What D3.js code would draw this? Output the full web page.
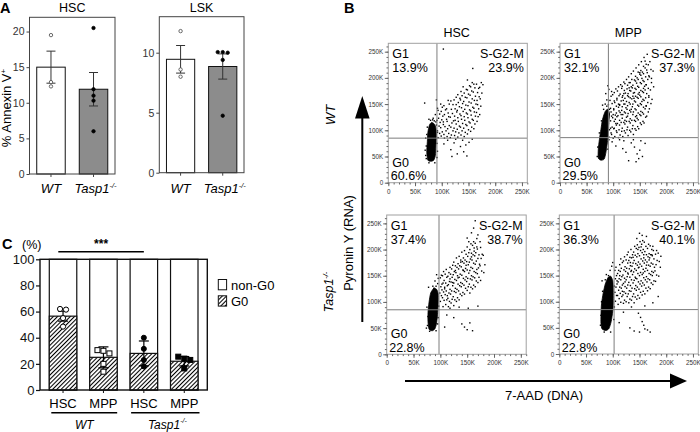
<!DOCTYPE html>
<html><head><meta charset="utf-8">
<script src="https://cdn.jsdelivr.net/npm/d3@7/dist/d3.min.js"></script>
<style>html,body{margin:0;padding:0;background:#fff;}svg{display:block;}</style>
</head><body>
<svg id="chart" width="700" height="432"></svg>
<script>
// ================= DATA =================
// Panel A – % Annexin V+
const aGroups = ["WT", "Tasp1"];
const aTicksHSC = [0, 5, 10, 15, 20];
const aTicksLSK = [0, 5, 10];
const hscAnnexinMean = [15.0, 11.9];
const hscAnnexinSEM = [2.25, 2.35];
const hscAnnexinWT = [19.5, 12.9, 12.3];
const hscAnnexinKO = [20.5, 11.9, 11.0, 10.3, 6.0];
const lskAnnexinMean = [9.45, 8.85];
const lskAnnexinSEM = [1.15, 1.05];
const lskAnnexinWT = [11.8, 8.6, 8.0];
const lskAnnexinKO = [10.05, 10.0, 10.05, 9.4, 4.75];

// Panel C – % G0 / non-G0
const cBars = ["WT-HSC", "WT-MPP", "KO-HSC", "KO-MPP"];
const cBarLabels = ["HSC", "MPP", "HSC", "MPP"];
const cTicks = [0, 20, 40, 60, 80, 100];
const g0Mean = [56.5, 25.0, 28.0, 22.0];
const g0SD = [3.8, 8.0, 9.5, 3.6];
const g0WTHSC = [62, 61.5, 55, 48.5];
const g0WTMPP = [30, 28, 30.5, 20, 14];
const g0KOHSC = [40, 31.5, 23, 18];
const g0KOMPP = [23, 24, 25.5, 16.5];

// Panel B – flow plots (values in thousands)
const flowTicks = [0, 50, 100, 150, 200, 250];
const flowTickLabels = ["0", "50K", "100K", "150K", "200K", "250K"];
const g1Pct = ["13.9%", "32.1%", "37.4%", "36.3%"];
const sg2mPct = ["23.9%", "37.3%", "38.7%", "40.1%"];
const g0Pct = ["60.6%", "29.5%", "22.8%", "22.8%"];
const gateX = [91, 91, 97.5, 102.5];
const gateY = [85, 86, 85, 85];

const blobHSCWT = [[74,43],[80,41],[85,43],[88,52],[89,70],[90,90],[89,104],[86,112],[81,115],[77,110],[74,96],[73,78],[72,58]];
const blobMPPWT = [[72,47],[77,43],[83,45],[86,56],[89,76],[91,98],[92,118],[93,132],[90,140],[85,136],[80,121],[77,102],[74,82],[72,64]];
const blobHSCKO = [[79,48],[85,45],[90,49],[93,60],[95,80],[96,100],[96,115],[93,124],[88,126],[82,117],[79,100],[77,80],[77,62]];
const blobMPPKO = [[80,48],[87,45],[93,49],[97,62],[100,82],[101,102],[101,122],[100,140],[96,149],[91,146],[86,134],[82,116],[79,96],[78,76],[78,58]];

const dotsHSCWT = [
[93,86],[96,94],[92,99],[95,108],[97,115],[94,123],[96,131],[93,138],
[99,89],[101,97],[98,105],[103,111],[100,120],[102,127],[99,136],[101,144],
[105,85],[104,92],[108,99],[106,107],[103,116],[109,121],[105,130],[107,139],[104,147],
[110,88],[113,94],[111,103],[114,109],[110,117],[113,126],[112,133],[109,141],[114,150],
[116,86],[118,91],[121,99],[117,106],[119,114],[122,118],[116,125],[120,132],[118,140],[121,149],[117,156],
[124,90],[126,97],[123,104],[127,112],[125,119],[124,127],[128,135],[125,141],[127,149],[123,158],
[130,87],[132,95],[129,102],[133,108],[131,117],[130,124],[134,131],[129,138],[133,145],[131,153],[134,161],[130,168],
[136,91],[138,99],[135,106],[139,113],[137,121],[136,128],[140,136],[137,143],[139,151],[135,158],[138,166],[136,174],
[142,88],[144,96],[141,104],[145,111],[143,119],[142,126],[146,133],[143,140],[145,148],[141,155],[144,163],[142,171],[146,178],
[148,93],[150,101],[147,109],[151,116],[149,124],[148,131],[152,139],[149,147],[151,154],[147,162],[150,169],[148,177],[152,185],
[154,98],[156,106],[153,114],[157,121],[155,129],[154,137],[158,144],[155,152],[157,160],[153,167],[156,175],[154,183],[157,191],
[160,103],[162,112],[159,119],[163,127],[161,135],[160,142],[164,150],[161,157],[163,165],[159,173],[162,181],[160,188],
[166,117],[168,126],[165,134],[169,141],[167,149],[166,157],[170,164],[167,172],[169,180],[165,188],
[171,130],[173,146],[172,160],[175,171],[171,182],[174,191],[177,187],
[158,218],[103,255],[148,196],[140,183],[127,163],[112,157],[98,150],
[104,74],[111,81],[117,63],[123,76],[129,55],[135,69],[141,59],[147,51],[151,77],[157,83],[126,83],[139,81],[145,72],[119,50],
[68,152],[84,123],[88,130],[91,119],[76,121],[92,142],[90,158],[86,118],[79,119],[72,92],[69,62],[91,48],[71,46],
[70,52],[71,70],[91,75],[92,96],[90,110],[73,106],[70,85],[92,60],[87,38],[76,38],[83,120],[89,116]
];

const dotsMPPWT = [
[92,87],[96,95],[93,101],[91,113],[95,118],[97,127],[92,131],[95,142],[91,149],[94,157],[96,165],
[100,85],[97,92],[101,103],[98,106],[102,117],[99,124],[96,135],[101,139],[98,151],[102,156],[99,168],[97,174],
[103,88],[106,99],[102,104],[105,113],[107,126],[104,129],[101,141],[106,146],[103,153],[107,161],[102,172],[105,179],
[110,86],[107,96],[111,101],[108,113],[112,119],[109,128],[106,133],[110,144],[112,149],[107,158],[111,166],[108,175],[110,183],
[113,91],[116,98],[112,110],[115,115],[117,123],[113,134],[116,138],[112,148],[115,156],[117,163],[113,169],[116,180],[114,187],
[118,88],[121,99],[117,104],[120,115],[122,119],[118,130],[121,135],[117,145],[120,150],[122,161],[118,166],[121,176],[117,184],[120,192],
[123,95],[126,101],[122,112],[125,117],[127,127],[123,133],[126,140],[122,150],[125,155],[127,166],[123,171],[126,179],[122,189],[125,197],
[128,90],[131,100],[127,106],[130,117],[132,122],[128,132],[131,138],[127,147],[130,153],[132,162],[128,170],[131,176],[127,186],[130,191],[129,202],
[133,97],[136,103],[132,114],[135,119],[137,130],[133,135],[136,145],[132,150],[135,160],[137,165],[133,175],[136,181],[132,191],[135,197],[134,208],
[138,92],[141,103],[137,109],[140,119],[142,126],[138,135],[141,141],[137,150],[140,156],[142,165],[138,171],[141,180],[137,186],[140,196],[142,203],[138,213],
[143,100],[146,107],[142,117],[145,123],[147,133],[143,139],[146,148],[142,154],[145,163],[147,169],[143,178],[146,184],[142,194],[145,200],[147,211],[143,219],
[148,103],[151,114],[147,120],[150,130],[152,136],[148,146],[151,151],[147,161],[150,167],[152,176],[148,182],[151,191],[147,197],[150,207],[152,214],[148,225],
[153,111],[156,117],[152,128],[155,134],[157,144],[153,149],[156,159],[152,164],[155,174],[157,180],[153,189],[156,195],[152,205],[155,211],[157,222],[153,231],
[158,114],[161,125],[157,131],[160,141],[162,147],[158,157],[161,162],[157,172],[160,177],[162,187],[158,193],[161,202],[157,208],[160,219],[162,226],[158,239],
[163,127],[166,135],[162,146],[165,153],[167,163],[163,170],[166,180],[162,187],[165,197],[167,204],[163,215],[166,225],[164,245],
[168,141],[171,151],[167,166],[170,177],[172,191],[168,202],[171,216],[169,231],
[173,159],[176,183],[172,199],[175,213],
[95,104],[104,121],[111,137],[119,157],[124,143],[129,164],[134,183],[139,161],[144,190],[149,172],[154,199],[159,184],[164,210],[134,140],[144,128],[154,155],[125,125],[115,130],[106,110],[150,210],[160,232],[140,172],[130,181],[120,170],[110,150],[100,130],
[98,78],[105,70],[112,82],[118,65],[124,58],[129,42],[134,76],[140,68],[145,55],[148,46],[150,62],[152,80],[155,50],[138,82],[160,75],[120,80],[143,40],
[85,150],[88,158],[80,148],[92,178],[86,170],[90,185],[82,140],[88,146],[93,140],[70,50],[71,68],[90,64],[92,82],[74,95],[78,118]
];

const dotsHSCKO = [
[100,101],[102,112],[99,117],[101,129],[103,134],[100,146],[102,151],
[105,91],[107,103],[104,108],[106,119],[108,125],[105,136],[107,141],[104,150],[106,158],
[110,95],[112,104],[109,114],[111,121],[113,131],[110,136],[112,147],[109,153],[111,162],
[115,91],[117,101],[114,107],[116,117],[118,124],[115,133],[117,139],[114,149],[116,156],[118,166],
[120,98],[122,105],[119,115],[121,121],[123,131],[120,138],[122,147],[119,153],[121,163],[123,170],
[125,93],[127,104],[124,110],[126,120],[128,126],[125,136],[127,143],[124,152],[126,158],[128,169],[125,176],
[130,101],[132,108],[129,118],[131,124],[133,134],[130,141],[132,150],[129,156],[131,166],[133,173],[130,184],
[135,104],[137,115],[134,121],[136,131],[138,137],[135,147],[137,153],[134,163],[136,169],[138,180],[135,187],
[140,112],[142,118],[139,129],[141,135],[143,145],[140,151],[142,161],[139,167],[141,177],[143,184],[140,195],
[145,115],[147,126],[144,132],[146,142],[148,148],[145,158],[147,164],[144,174],[146,180],[148,191],[145,198],
[150,122],[152,129],[149,139],[151,145],[153,155],[150,161],[152,171],[149,177],[151,187],[153,194],[150,205],
[155,117],[157,128],[154,134],[156,144],[158,150],[155,160],[157,166],[154,176],[156,182],[158,193],[155,200],[157,211],
[160,125],[162,132],[159,142],[161,148],[163,158],[160,164],[162,174],[159,180],[161,190],[163,197],[160,208],[162,215],
[165,129],[167,140],[164,146],[166,156],[168,162],[165,172],[167,178],[164,188],[166,194],[168,205],[165,212],
[170,137],[172,147],[169,154],[171,165],[173,172],[170,183],[172,190],[169,201],
[175,141],[177,159],[174,169],[176,183],[178,191],[175,204],
[181,156],[183,171],[180,189],
[108,128],[118,144],[128,160],[138,176],[148,170],[158,186],[163,203],[153,215],[143,160],[133,146],[123,137],[113,112],[103,123],
[165,255],[162,241],[158,232],[170,228],[150,222],[168,221],[174,215],
[108,52],[125,70],[140,58],[145,52],[150,47],[155,60],[160,45],[152,88],[135,90],[118,88],[170,92],[112,75],
[92,130],[90,140],[95,135],[96,145],[93,152],[88,126],[78,128],[74,50],[95,58],
[76,55],[77,72],[96,70],[97,92],[75,90],[80,44],[92,45],[86,130]
];

const dotsMPPKO = [
[105,101],[107,112],[104,118],[106,128],[108,134],[105,144],[107,150],[104,160],[106,166],
[110,95],[112,106],[109,112],[111,122],[113,128],[110,138],[112,144],[109,154],[111,160],[113,171],
[115,99],[117,110],[114,116],[116,126],[118,132],[115,142],[117,148],[114,158],[116,164],[118,175],[115,182],
[120,97],[122,103],[119,113],[121,119],[123,129],[120,135],[122,145],[119,151],[121,161],[123,167],[120,178],[122,186],
[125,100],[127,110],[124,116],[126,126],[128,132],[125,142],[127,148],[124,158],[126,164],[128,174],[125,180],[127,190],
[130,98],[132,105],[129,115],[131,121],[133,131],[130,137],[132,147],[129,153],[131,163],[133,169],[130,179],[132,185],[129,195],
[135,103],[137,110],[134,120],[136,126],[138,136],[135,142],[137,152],[134,158],[136,168],[138,174],[135,184],[137,190],[134,200],
[140,98],[142,109],[139,115],[141,125],[143,131],[140,141],[142,147],[139,157],[141,163],[143,173],[140,179],[142,189],[139,195],[141,206],
[145,105],[147,112],[144,122],[146,128],[148,138],[145,144],[147,154],[144,160],[146,170],[148,176],[145,186],[147,192],[144,202],[146,209],[145,221],
[150,107],[152,118],[149,124],[151,134],[153,140],[150,150],[152,156],[149,166],[151,172],[153,182],[150,188],[152,198],[149,204],[151,215],[150,231],
[155,113],[157,120],[154,130],[156,136],[158,146],[155,152],[157,162],[154,168],[156,178],[158,184],[155,194],[157,200],[154,210],[156,217],[155,227],
[160,115],[162,126],[159,132],[161,142],[163,148],[160,158],[162,164],[159,174],[161,180],[163,190],[160,196],[162,206],[159,214],
[165,121],[167,128],[164,138],[166,144],[168,154],[165,160],[167,170],[164,176],[166,186],[168,192],[165,202],[167,210],
[170,125],[172,136],[169,142],[171,152],[173,158],[170,168],[172,174],[169,184],[171,190],[173,200],[170,207],
[175,133],[177,140],[174,150],[176,156],[178,166],[175,172],[177,182],[174,188],[176,198],[175,206],
[180,139],[182,151],[179,159],[181,171],[183,179],[180,191],[182,198],
[186,149],[189,166],[187,177],[190,187],[185,193],
[108,140],[118,120],[128,155],[138,185],[148,165],[158,190],[168,180],[143,145],[133,175],[123,138],[113,150],[153,205],[163,170],[173,190],[163,225],[147,200],[135,160],[157,155],
[132,50],[140,44],[150,42],[158,55],[160,48],[165,46],[170,42],[152,70],[148,78],[155,62],[120,80],[112,60],[135,90],[160,92],[175,98],[185,110],
[95,160],[98,168],[92,150],[100,175],[88,152],[80,140],[86,142],
[77,55],[78,74],[102,66],[103,90],[79,100],[81,120],[103,130],[96,42],[84,42]
];

// ================= DRAWING =================
const FONT = '"Liberation Sans", Arial, Helvetica, sans-serif';
const svg = d3.select("#chart").attr("font-family", FONT);
const defs = svg.append("defs");

const pat = defs.append("pattern").attr("id", "hatch").attr("patternUnits", "userSpaceOnUse")
  .attr("width", 3).attr("height", 3).attr("patternTransform", "rotate(45)");
pat.append("rect").attr("width", 3).attr("height", 3).attr("fill", "#fff");
pat.append("line").attr("x1", 0.5).attr("y1", 0).attr("x2", 0.5).attr("y2", 3).attr("stroke", "#000").attr("stroke-width", 1.1);

function tasp(sel, size) {
  sel.append("tspan").text("Tasp1");
  sel.append("tspan").attr("font-size", size * 0.58).attr("dy", -size * 0.42).text("-/-");
}

function dodge(vals, yScale, minGap, step) {
  const idx = vals.map((v, i) => i).sort((a, b) => vals[b] - vals[a]);
  const off = new Array(vals.length).fill(0);
  let cluster = [idx[0]];
  const flush = () => { const n = cluster.length; cluster.forEach((k, j) => off[k] = (j - (n - 1) / 2) * step); };
  for (let i = 1; i < idx.length; i++) {
    if (Math.abs(yScale(vals[idx[i]]) - yScale(vals[cluster[cluster.length - 1]])) < minGap) cluster.push(idx[i]);
    else { flush(); cluster = [idx[i]]; }
  }
  flush();
  return off;
}

function label(x, y, text, size, opts = {}) {
  const t = svg.append("text").attr("x", x).attr("y", y).attr("font-size", size)
    .attr("text-anchor", opts.anchor || "start").attr("fill", opts.fill || "#000");
  if (opts.bold) t.attr("font-weight", "bold");
  if (opts.italic) t.attr("font-style", "italic");
  if (opts.rotate) t.attr("transform", `rotate(${opts.rotate},${x},${y})`);
  if (text !== null) t.text(text);
  return t;
}

// ---------- Panel A ----------
function annexinPanel(o) {
  const x = d3.scaleBand().domain(aGroups).range([o.x0, o.x1]).paddingInner(0.33).paddingOuter(0.17);
  const y = d3.scaleLinear().domain([0, o.ymax]).range([o.y1, o.y0]);
  const g = svg.append("g");
  g.selectAll("rect.bar").data(o.means).join("rect").attr("class", "bar")
    .attr("x", (d, i) => x(aGroups[i])).attr("width", x.bandwidth())
    .attr("y", d => y(d)).attr("height", d => y(0) - y(d))
    .attr("fill", (d, i) => i === 0 ? "#fff" : "#8c8c8c").attr("stroke", "#111").attr("stroke-width", 1);
  o.means.forEach((m, i) => {
    const cx = x(aGroups[i]) + x.bandwidth() / 2;
    const lo = y(m - o.sem[i]), hi = y(m + o.sem[i]);
    g.append("line").attr("x1", cx).attr("x2", cx).attr("y1", lo).attr("y2", hi).attr("stroke", "#333");
    [lo, hi].forEach(yy => g.append("line").attr("x1", cx - 4.5).attr("x2", cx + 4.5).attr("y1", yy).attr("y2", yy).attr("stroke", "#333"));
  });
  [o.wt, o.ko].forEach((vals, i) => {
    const cx = x(aGroups[i]) + x.bandwidth() / 2;
    const off = dodge(vals, y, 3.5, 5);
    g.selectAll(null).data(vals).join("circle")
      .attr("cx", (d, j) => cx + off[j]).attr("cy", d => y(d)).attr("r", 1.7)
      .attr("fill", i === 0 ? "#fff" : "#000").attr("stroke", i === 0 ? "#444" : "#000").attr("stroke-width", 0.8);
  });
  g.append("rect").attr("x", o.x0).attr("y", o.y0).attr("width", o.x1 - o.x0).attr("height", o.y1 - o.y0)
    .attr("fill", "none").attr("stroke", "#444").attr("stroke-width", 1);
  const ya = g.append("g").attr("transform", `translate(${o.x0},0)`)
    .call(d3.axisLeft(y).tickValues(o.ticks).tickSize(3).tickPadding(2));
  ya.select(".domain").remove();
  ya.selectAll("line").attr("stroke", "#444");
  ya.selectAll("text").attr("font-size", 10.5).attr("font-family", FONT).attr("fill", "#333");
  const xa = g.append("g").attr("transform", `translate(0,${o.y1})`)
    .call(d3.axisBottom(x).tickSize(3).tickFormat(""));
  xa.select(".domain").remove();
  xa.selectAll("line").attr("stroke", "#444");
  label((o.x0 + o.x1) / 2, 12, o.title, 12.5, { anchor: "middle" });
  label(x("WT") + x.bandwidth() / 2, 193, "WT", 13, { anchor: "middle", italic: true });
  tasp(label(x("Tasp1") + x.bandwidth() / 2 + 2, 193, null, 13, { anchor: "middle", italic: true }), 13);
}

annexinPanel({ x0: 29.5, x1: 115, y0: 17.3, y1: 174, ymax: 22, ticks: aTicksHSC, title: "HSC",
  means: hscAnnexinMean, sem: hscAnnexinSEM, wt: hscAnnexinWT, ko: hscAnnexinKO });
annexinPanel({ x0: 159.3, x1: 244, y0: 16.7, y1: 172.7, ymax: 13, ticks: aTicksLSK, title: "LSK",
  means: lskAnnexinMean, sem: lskAnnexinSEM, wt: lskAnnexinWT, ko: lskAnnexinKO });

const yl = label(11, 108, null, 13, { anchor: "middle", rotate: -90 });
yl.append("tspan").text("% Annexin V");
yl.append("tspan").attr("font-size", 8).attr("dy", -5).text("+");
label(0, 13, "A", 14.5, { bold: true });

// ---------- Panel C ----------
(function () {
  const x0 = 40, x1 = 207.3, y0 = 259.3, y1 = 390;
  const x = d3.scaleBand().domain(cBars).range([x0, x1]).paddingInner(0.32).paddingOuter(0.23);
  const y = d3.scaleLinear().domain([0, 100]).range([y1, y0]);
  const g = svg.append("g");
  g.selectAll("rect.full").data(cBars).join("rect")
    .attr("x", d => x(d)).attr("width", x.bandwidth()).attr("y", y(100)).attr("height", y(0) - y(100))
    .attr("fill", "#fff").attr("stroke", "#111").attr("stroke-width", 1.2);
  g.selectAll("rect.g0").data(g0Mean).join("rect")
    .attr("x", (d, i) => x(cBars[i])).attr("width", x.bandwidth()).attr("y", d => y(d)).attr("height", d => y(0) - y(d))
    .attr("fill", "url(#hatch)").attr("stroke", "#111").attr("stroke-width", 1.2);
  g0Mean.forEach((m, i) => {
    const cx = x(cBars[i]) + x.bandwidth() / 2;
    const lo = y(m - g0SD[i]), hi = y(m + g0SD[i]);
    g.append("line").attr("x1", cx).attr("x2", cx).attr("y1", lo).attr("y2", hi).attr("stroke", "#000").attr("stroke-width", 1.2);
    [lo, hi].forEach(yy => g.append("line").attr("x1", cx - 5).attr("x2", cx + 5).attr("y1", yy).attr("y2", yy).attr("stroke", "#000").attr("stroke-width", 1.2));
  });
  const sets = [g0WTHSC, g0WTMPP, g0KOHSC, g0KOMPP];
  const shapes = ["circle", "square", "circle", "square"];
  sets.forEach((vals, i) => {
    const cx = x(cBars[i]) + x.bandwidth() / 2;
    const off = dodge(vals, y, 4, 6);
    const open = i < 2;
    vals.forEach((v, j) => {
      const px = cx + off[j], py = y(v);
      const el = shapes[i] === "circle"
        ? g.append("circle").attr("cx", px).attr("cy", py).attr("r", open ? 2.6 : 2.5)
        : g.append("rect").attr("x", px - 2.5).attr("y", py - 2.5).attr("width", 5).attr("height", 5);
      el.attr("fill", open ? "#fff" : "#000").attr("stroke", "#000").attr("stroke-width", 1);
    });
  });
  g.append("rect").attr("x", x0).attr("y", y0).attr("width", x1 - x0).attr("height", y1 - y0)
    .attr("fill", "none").attr("stroke", "#111").attr("stroke-width", 1.4);
  const ya = g.append("g").attr("transform", `translate(${x0},0)`)
    .call(d3.axisLeft(y).tickValues(cTicks).tickSize(4).tickPadding(1.5));
  ya.select(".domain").remove();
  ya.selectAll("line").attr("stroke", "#111").attr("stroke-width", 1.2);
  ya.selectAll("text").attr("font-size", 13).attr("font-family", FONT).attr("fill", "#111");
  const xa = g.append("g").attr("transform", `translate(0,${y1})`).call(d3.axisBottom(x).tickSize(3).tickFormat(""));
  xa.select(".domain").remove();
  xa.selectAll("line").attr("stroke", "#111");
  cBars.forEach((b, i) => label(x(b) + x.bandwidth() / 2, 407.5, cBarLabels[i], 13, { anchor: "middle" }));
  const wtL = x(cBars[0]) + 2, wtR = x(cBars[1]) + x.bandwidth();
  const koL = x(cBars[2]) + 1, koR = x(cBars[3]) + x.bandwidth() + 1.5;
  g.append("line").attr("x1", wtL).attr("x2", wtR).attr("y1", 412.7).attr("y2", 412.7).attr("stroke", "#000").attr("stroke-width", 1.6);
  g.append("line").attr("x1", koL).attr("x2", koR).attr("y1", 412.7).attr("y2", 412.7).attr("stroke", "#000").attr("stroke-width", 1.6);
  label((wtL + wtR) / 2, 428.5, "WT", 12, { anchor: "middle", italic: true });
  tasp(label((koL + koR) / 2 + 2, 428.5, null, 12, { anchor: "middle", italic: true }), 12);
  const sx1 = x(cBars[0]) + 9, sx2 = x(cBars[2]) + x.bandwidth() / 2;
  g.append("line").attr("x1", sx1).attr("x2", sx2).attr("y1", 251.7).attr("y2", 251.7).attr("stroke", "#000").attr("stroke-width", 1.4);
  label((sx1 + sx2) / 2, 247.5, "***", 12, { anchor: "middle", bold: true });
  label(22, 248.5, "(%)", 12.5);
  label(2, 249, "C", 14.5, { bold: true });
  g.append("rect").attr("x", 218.3).attr("y", 279.5).attr("width", 8.3).attr("height", 10.3).attr("fill", "#fff").attr("stroke", "#111");
  g.append("rect").attr("x", 218.3).attr("y", 295.8).attr("width", 8.3).attr("height", 10.3).attr("fill", "url(#hatch)").attr("stroke", "#111");
  label(231, 289.5, "non-G0", 13);
  label(231, 305.8, "G0", 13);
})();

// ---------- Panel B ----------
function flowPanel(i, o) {
  const x = d3.scaleLinear().domain([0, 260]).range([o.left, o.left + o.w]);
  const y = d3.scaleLinear().domain([0, 266]).range([o.top + o.h, o.top]);
  const g = svg.append("g");
  const cid = "clip" + i;
  defs.append("clipPath").attr("id", cid).append("rect").attr("x", o.left).attr("y", o.top).attr("width", o.w).attr("height", o.h);
  const inner = g.append("g").attr("clip-path", `url(#${cid})`);
  inner.append("path").datum(o.blob)
    .attr("d", d3.line().x(d => x(d[0])).y(d => y(d[1])).curve(d3.curveCardinalClosed.tension(0.3)))
    .attr("fill", "#000").attr("stroke", "#000").attr("stroke-width", 0.8);
  inner.selectAll("rect.dot").data(o.dots).join("rect").attr("class", "dot")
    .attr("x", d => x(d[0]) - 0.7).attr("y", d => y(d[1]) - 0.7).attr("width", 1.4).attr("height", 1.4).attr("fill", "#000");
  inner.append("line").attr("x1", x(gateX[i])).attr("x2", x(gateX[i])).attr("y1", o.top).attr("y2", o.top + o.h)
    .attr("stroke", "#7d7d7d").attr("stroke-width", 1);
  inner.append("line").attr("x1", o.left).attr("x2", o.left + o.w).attr("y1", y(gateY[i])).attr("y2", y(gateY[i]))
    .attr("stroke", "#7d7d7d").attr("stroke-width", 1);
  g.append("rect").attr("x", o.left).attr("y", o.top).attr("width", o.w).attr("height", o.h)
    .attr("fill", "none").attr("stroke", "#a0a0a0").attr("stroke-width", 1);
  const minor = d3.range(0, 261, 10);
  const styleAxis = s => { s.select(".domain").remove(); s.selectAll("line").attr("stroke", "#666"); };
  g.append("g").attr("transform", `translate(${o.left},0)`).call(d3.axisLeft(y).tickValues(minor).tickSize(1.8).tickFormat("")).call(styleAxis);
  g.append("g").attr("transform", `translate(0,${o.top + o.h})`).call(d3.axisBottom(x).tickValues(minor).tickSize(1.8).tickFormat("")).call(styleAxis);
  const ya = g.append("g").attr("transform", `translate(${o.left},0)`)
    .call(d3.axisLeft(y).tickValues(flowTicks).tickSize(3.5).tickPadding(1.5).tickFormat((d, k) => flowTickLabels[k]));
  styleAxis(ya);
  ya.selectAll("text").attr("font-size", 6.3).attr("font-family", FONT).attr("fill", "#333");
  const xa = g.append("g").attr("transform", `translate(0,${o.top + o.h})`)
    .call(d3.axisBottom(x).tickValues(flowTicks).tickSize(3.5).tickPadding(3).tickFormat((d, k) => flowTickLabels[k]));
  styleAxis(xa);
  xa.selectAll("text").attr("font-size", 6.3).attr("font-family", FONT).attr("fill", "#333");
  label(o.left + 4, o.top + 15, "G1", 12.5);
  label(o.left + 4, o.top + 28.5, g1Pct[i], 12.5);
  label(o.left + o.w - 3.5, o.top + 15, "S-G2-M", 12.5, { anchor: "end" });
  label(o.left + o.w - 3.5, o.top + 28.5, sg2mPct[i], 12.5, { anchor: "end" });
  label(o.left + 4, o.top + o.h - 16, "G0", 12.5);
  label(o.left + 2.5, o.top + o.h - 2.5, g0Pct[i], 12.5);
}

flowPanel(0, { left: 388.3, top: 43.3, w: 139, h: 139.4, blob: blobHSCWT, dots: dotsHSCWT });
flowPanel(1, { left: 560, top: 43.3, w: 138.3, h: 139.4, blob: blobMPPWT, dots: dotsMPPWT });
flowPanel(2, { left: 386.7, top: 215, w: 139.5, h: 139.3, blob: blobHSCKO, dots: dotsHSCKO });
flowPanel(3, { left: 559.3, top: 215, w: 139, h: 139, blob: blobMPPKO, dots: dotsMPPKO });

label(456.7, 36.5, "HSC", 12.5, { anchor: "middle" });
label(628.3, 36.5, "MPP", 12.5, { anchor: "middle" });
label(334.5, 115, "WT", 13, { anchor: "middle", italic: true, rotate: -90 });
tasp(label(333, 292, null, 12.5, { anchor: "middle", italic: true, rotate: -90 }), 12.5);
label(344, 12.5, "B", 14.5, { bold: true });

svg.append("line").attr("x1", 362.3).attr("x2", 362.3).attr("y1", 117).attr("y2", 322).attr("stroke", "#000").attr("stroke-width", 2);
svg.append("path").attr("d", "M362.3,96 L355,118.5 L369.6,118.5 Z").attr("fill", "#000");
svg.append("line").attr("x1", 405).attr("x2", 672).attr("y1", 381).attr("y2", 381).attr("stroke", "#000").attr("stroke-width", 2);
svg.append("path").attr("d", "M687,381 L670,373.5 L670,388.5 Z").attr("fill", "#000");
label(353, 243, "Pyronin Y (RNA)", 13, { anchor: "middle", rotate: -90 });
label(544, 400, "7-AAD (DNA)", 13, { anchor: "middle" });
</script>
</body></html>
